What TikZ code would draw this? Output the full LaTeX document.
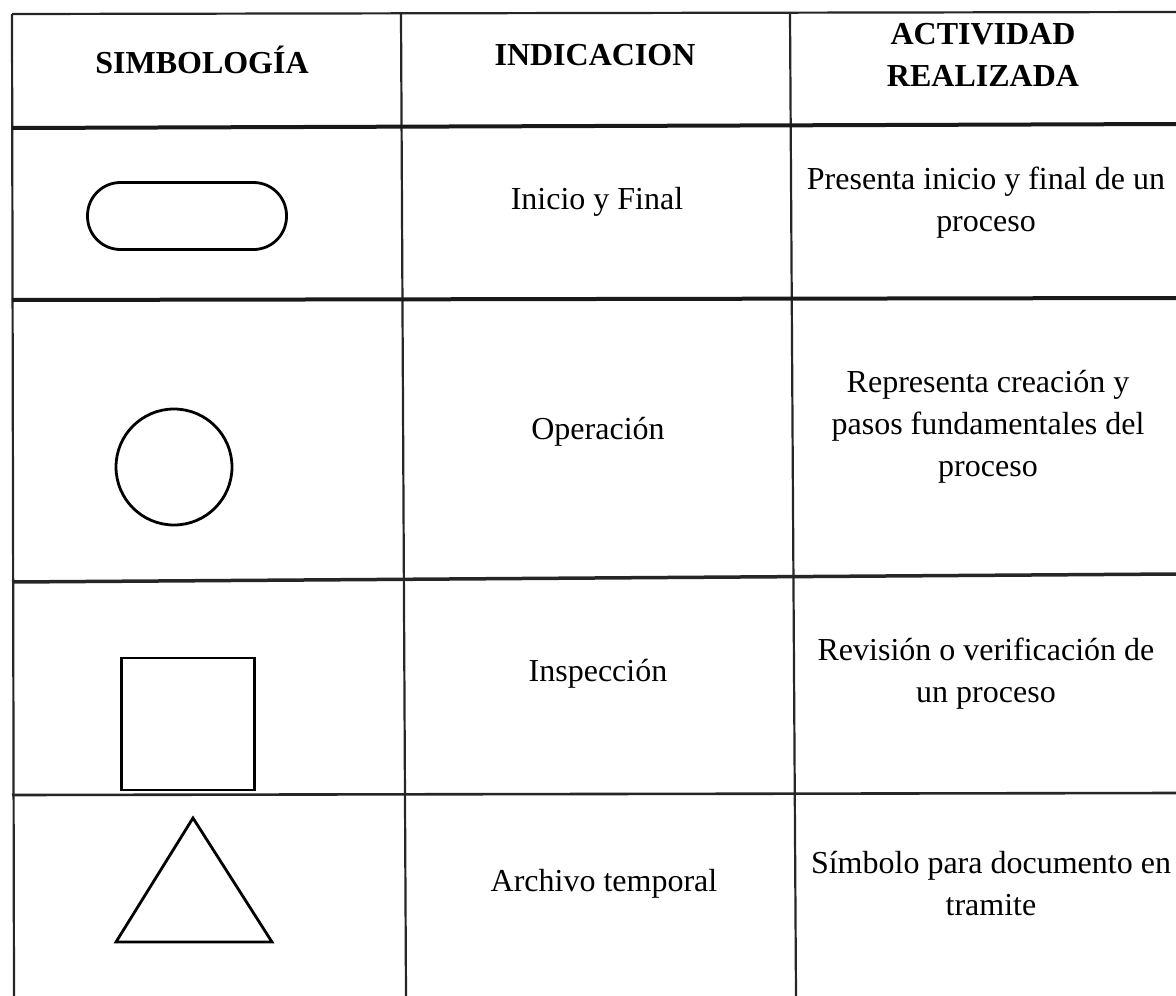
\documentclass[tikz,border=0pt]{standalone}
\usepackage{fontspec}
\setmainfont{Liberation Serif}
\begin{document}
\begin{tikzpicture}[x=1pt,y=-1pt,
  grid/.style={line width=2.2pt,black!85},
  thick rule/.style={line width=4pt,black!90},
  sym/.style={draw,line width=2.8pt,inner sep=0pt},
  head/.style={font=\fontsize{32}{42}\selectfont\bfseries,align=center},
  body/.style={font=\fontsize{32}{42}\selectfont,align=center},
  act/.style={font=\fontsize{32}{42}\selectfont,align=center}]
\useasboundingbox (0,0) rectangle (1176,996);
% grid
\draw[grid] (12,14) -- (1176,12);
\draw[grid] (12,14) -- (14,996);
\draw[grid] (401,14) -- (406,996);
\draw[grid] (790,13) -- (796,996);
\draw[thick rule] (12,128) -- (1176,124);
\draw[thick rule] (12,300) -- (1176,298);
\draw[line width=3.5pt,black!85] (12,582) -- (1176,574);
\draw[line width=2.6pt,black!85] (12,795) -- (1176,793);
% headers
\node[head] (h1) at (202,60) {SIMBOLOGÍA};
\node[head] (h2) at (595,55) {INDICACION};
\node[head] (h3) at (983,55) {ACTIVIDAD\\REALIZADA};
% symbols
\node[sym,rectangle,rounded corners=33pt,minimum width=199,minimum height=67] (s1) at (187,216) {};
\node[sym,circle,minimum size=116] (s2) at (174,467) {};
\node[sym,rectangle,minimum width=133,minimum height=132] (s3) at (188,724) {};
\draw[line width=2.8pt,line join=miter] (116,942) -- (193,818) -- (272,942) -- cycle;
% indications
\node[body] (i1) at (597,202) {Inicio y Final};
\node[body] (i2) at (598,432) {Operación};
\node[body] (i3) at (598,674) {Inspección};
\node[body] (i4) at (604,884) {Archivo temporal};
% activities
\node[act] (a1) at (986,203) {Presenta inicio y final de un\\proceso};
\node[act] (a2) at (988,427) {Representa creación y\\pasos fundamentales del\\proceso};
\node[act] (a3) at (986,674) {Revisión o verificación de\\un proceso};
\node[act] (a4) at (991,884) {Símbolo para documento en\\tramite};
\end{tikzpicture}
\end{document}
